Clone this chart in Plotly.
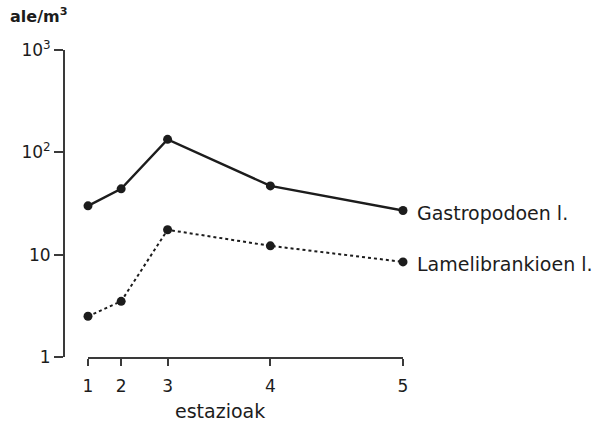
import math
import plotly.graph_objects as go

# Station positions along the river (km from station 1) and their labels
station_km = [0.0, 1.0, 2.4, 5.5, 9.5]
station_labels = ["1", "2", "3", "4", "5"]

# Larval densities (individuals per m3) at each station
gastropod = [30, 44, 134, 47, 27]
lamellibranch = [2.5, 3.5, 17.5, 12.2, 8.5]

series_names = ["Gastropodoen l.", "Lamelibrankioen l."]

y_tickvals = [1, 10, 100, 1000]
y_ticktext = ["1", "10", "10<sup>2</sup>", "10<sup>3</sup>"]

FONT = "DejaVu Sans"
INK = "#1c1c1c"
AXIS = "#3a3a3a"

W, H = 611, 422
left, right = 64, 403      # y-axis line / end of x-axis line (px)
top, bottom = 50, 357      # 10^3 and 1 on the y-axis (px)
x_start = 88               # start of x-axis line (px)

fig = go.Figure()

fig.add_trace(go.Scatter(
    x=station_km, y=gastropod, mode="lines+markers",
    line=dict(color=INK, width=2.4),
    marker=dict(color=INK, size=9),
    cliponaxis=False, showlegend=False,
))
fig.add_trace(go.Scatter(
    x=station_km, y=lamellibranch, mode="lines+markers",
    line=dict(color=INK, width=2, dash="dot"),
    marker=dict(color=INK, size=9),
    cliponaxis=False, showlegend=False,
))

# Series labels beside the last station (log axis: annotation y in log10 units)
for name, vals in zip(series_names, [gastropod, lamellibranch]):
    fig.add_annotation(
        x=station_km[-1], y=math.log10(vals[-1]), yref="y", xref="x",
        text=name, showarrow=False, xanchor="left", yanchor="middle",
        xshift=12, yshift=-2,
        font=dict(family=FONT, size=19, color=INK),
    )

plot_w = right - left
plot_h = bottom - top

# Unit label above the y-axis
fig.add_annotation(
    xref="paper", yref="paper",
    x=(8 - left) / plot_w, y=1 + (top - 16) / plot_h,
    text="<b>ale/m<sup>3</sup></b>", showarrow=False,
    xanchor="left", yanchor="middle",
    font=dict(family=FONT, size=16, color=INK),
)

# x-axis title
fig.add_annotation(
    xref="paper", yref="paper",
    x=(220 - left) / plot_w, y=(bottom - 411) / plot_h,
    text="estazioak", showarrow=False,
    xanchor="center", yanchor="middle",
    font=dict(family=FONT, size=19, color=INK),
)

fig.update_layout(
    width=W, height=H,
    margin=dict(l=left, r=W - right, t=top, b=H - bottom, pad=0),
    paper_bgcolor="white", plot_bgcolor="white",
    font=dict(family=FONT, size=17, color=INK),
    xaxis=dict(
        domain=[(x_start - left) / plot_w, 1],
        range=[station_km[0], station_km[-1]],
        tickvals=station_km, ticktext=station_labels,
        showline=True, linecolor=AXIS, linewidth=2,
        ticks="outside", ticklen=7, tickwidth=1.8, tickcolor=AXIS,
        ticklabelstandoff=6,
        showgrid=False, zeroline=False, anchor="y",
    ),
    yaxis=dict(
        type="log", range=[0, 3],
        tickvals=y_tickvals, ticktext=y_ticktext,
        showline=True, linecolor=AXIS, linewidth=2,
        ticks="outside", ticklen=9, tickwidth=1.8, tickcolor=AXIS,
        showgrid=False, zeroline=False,
        anchor="free", position=0,
    ),
)

fig.write_html("out.html")
